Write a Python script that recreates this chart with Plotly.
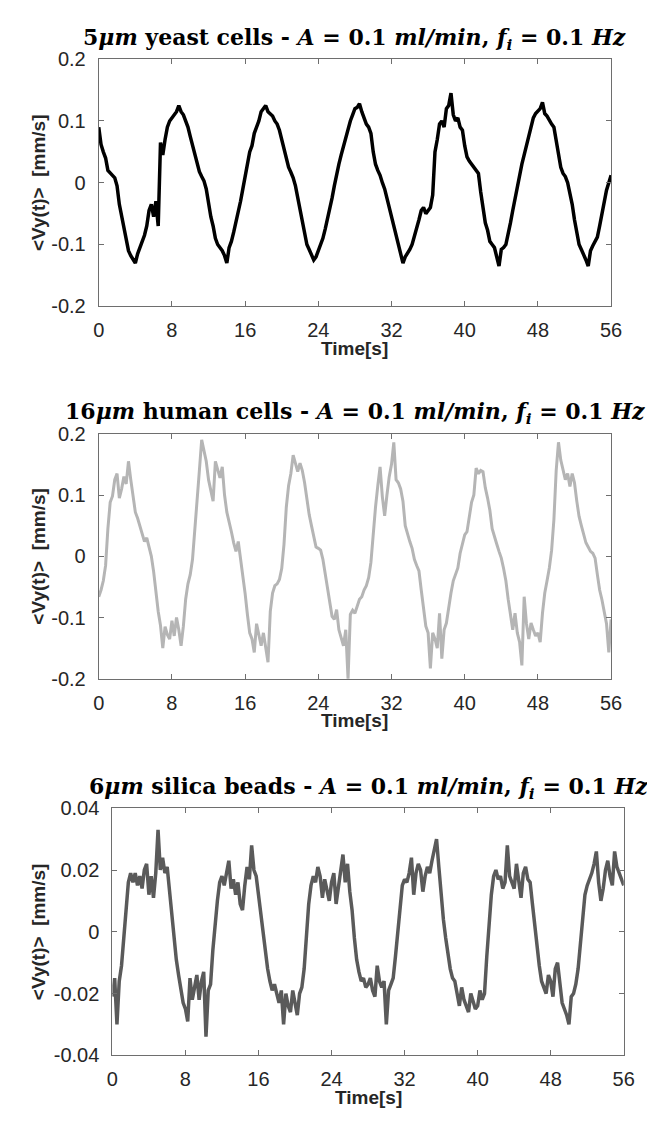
import plotly.graph_objects as go

# sample times (s), 0.25 s step
time_s = [i * 0.25 for i in range(225)]

# 5um yeast cells <Vy(t)> [mm/s]
yeast = [
    0.090, 0.062, 0.050, 0.040, 0.020, 0.015, 0.012, 0.008,
    -0.005, -0.035, -0.055, -0.075, -0.095, -0.110, -0.118, -0.125,
    -0.130, -0.115, -0.105, -0.095, -0.085, -0.070, -0.045, -0.035,
    -0.055, -0.030, -0.070, 0.065, 0.045, 0.070, 0.090, 0.100,
    0.105, 0.112, 0.115, 0.125, 0.115, 0.110, 0.100, 0.090,
    0.075, 0.060, 0.045, 0.030, 0.018, 0.010, 0.003, -0.010,
    -0.035, -0.055, -0.070, -0.090, -0.100, -0.105, -0.110, -0.118,
    -0.130, -0.105, -0.095, -0.080, -0.065, -0.050, -0.030, -0.010,
    0.010, 0.030, 0.050, 0.060, 0.080, 0.090, 0.100, 0.115,
    0.120, 0.125, 0.115, 0.112, 0.108, 0.100, 0.095, 0.085,
    0.070, 0.050, 0.038, 0.025, 0.017, 0.008, -0.005, -0.025,
    -0.045, -0.065, -0.085, -0.100, -0.108, -0.115, -0.125, -0.120,
    -0.110, -0.100, -0.090, -0.075, -0.060, -0.045, -0.025, -0.005,
    0.015, 0.030, 0.045, 0.060, 0.075, 0.090, 0.100, 0.110,
    0.120, 0.122, 0.128, 0.115, 0.105, 0.095, 0.090, 0.080,
    0.050, 0.030, 0.020, 0.012, 0.000, -0.010, -0.025, -0.040,
    -0.056, -0.075, -0.090, -0.104, -0.115, -0.130, -0.120, -0.115,
    -0.108, -0.100, -0.088, -0.075, -0.060, -0.045, -0.040, -0.050,
    -0.045, -0.040, -0.020, 0.050, 0.070, 0.095, 0.100, 0.090,
    0.120, 0.125, 0.145, 0.110, 0.100, 0.105, 0.090, 0.085,
    0.060, 0.042, 0.035, 0.030, 0.025, 0.020, 0.015, -0.015,
    -0.045, -0.065, -0.077, -0.095, -0.100, -0.105, -0.120, -0.135,
    -0.108, -0.105, -0.100, -0.085, -0.065, -0.045, -0.025, -0.005,
    0.015, 0.030, 0.045, 0.060, 0.075, 0.090, 0.105, 0.112,
    0.117, 0.120, 0.130, 0.112, 0.108, 0.100, 0.095, 0.090,
    0.070, 0.050, 0.025, 0.015, 0.010, 0.000, -0.015, -0.035,
    -0.060, -0.080, -0.100, -0.108, -0.115, -0.125, -0.135, -0.110,
    -0.102, -0.095, -0.088, -0.070, -0.050, -0.030, -0.012, 0.000,
    0.012,
]

# 16um human cells <Vy(t)> [mm/s]
human = [
    -0.066, -0.055, -0.040, -0.015, 0.045, 0.088, 0.098, 0.125,
    0.135, 0.095, 0.110, 0.130, 0.118, 0.155, 0.125, 0.095,
    0.072, 0.062, 0.048, 0.035, 0.024, 0.030, 0.012, 0.000,
    -0.025, -0.060, -0.090, -0.113, -0.150, -0.115, -0.128, -0.135,
    -0.105, -0.130, -0.100, -0.120, -0.146, -0.114, -0.070, -0.045,
    -0.030, -0.005, 0.040, 0.085, 0.140, 0.190, 0.172, 0.155,
    0.125, 0.105, 0.090, 0.155, 0.140, 0.128, 0.146, 0.100,
    0.072, 0.058, 0.040, 0.022, 0.008, 0.024, -0.005, -0.025,
    -0.061, -0.095, -0.125, -0.135, -0.157, -0.110, -0.130, -0.146,
    -0.125, -0.150, -0.173, -0.090, -0.060, -0.048, -0.045, -0.038,
    -0.020, 0.020, 0.080, 0.115, 0.135, 0.165, 0.150, 0.138,
    0.152, 0.140, 0.120, 0.093, 0.068, 0.050, 0.035, 0.015,
    0.013, 0.010, -0.005, -0.030, -0.050, -0.077, -0.098, -0.103,
    -0.087, -0.120, -0.135, -0.146, -0.120, -0.200, -0.095, -0.088,
    -0.093, -0.082, -0.070, -0.066, -0.055, -0.048, -0.035, -0.010,
    0.040, 0.080, 0.115, 0.146, 0.097, 0.066, 0.100, 0.130,
    0.150, 0.186, 0.125, 0.120, 0.110, 0.090, 0.050, 0.035,
    0.024, 0.013, -0.005, -0.015, -0.024, -0.055, -0.090, -0.114,
    -0.125, -0.183, -0.125, -0.135, -0.150, -0.093, -0.167, -0.120,
    -0.109, -0.082, -0.060, -0.040, -0.029, -0.019, 0.005, 0.020,
    0.035, 0.040, 0.065, 0.088, 0.100, 0.144, 0.135, 0.140,
    0.138, 0.112, 0.095, 0.075, 0.045, 0.030, 0.020, 0.008,
    -0.003, -0.020, -0.040, -0.070, -0.095, -0.120, -0.093, -0.125,
    -0.140, -0.178, -0.066, -0.110, -0.135, -0.109, -0.120, -0.130,
    -0.125, -0.140, -0.093, -0.060, -0.040, -0.019, 0.010, 0.060,
    0.140, 0.186, 0.157, 0.140, 0.125, 0.135, 0.114, 0.135,
    0.120, 0.090, 0.065, 0.050, 0.035, 0.022, 0.015, 0.008,
    0.005, -0.003, -0.030, -0.055, -0.071, -0.093, -0.110, -0.157,
    -0.103,
]

# 6um silica beads <Vy(t)> [mm/s]
silica = [
    -0.021, -0.015, -0.030, -0.016, -0.011, -0.002, 0.010, 0.016,
    0.019, 0.016, 0.019, 0.015, 0.018, 0.014, 0.020, 0.022,
    0.012, 0.018, 0.011, 0.019, 0.033, 0.020, 0.024, 0.019,
    0.021, 0.013, 0.004, -0.003, -0.009, -0.014, -0.018, -0.023,
    -0.025, -0.029, -0.015, -0.022, -0.018, -0.014, -0.022, -0.016,
    -0.013, -0.034, -0.019, -0.017, -0.006, 0.003, 0.010, 0.016,
    0.018, 0.015, 0.019, 0.023, 0.014, 0.017, 0.012, 0.016,
    0.009, 0.007, 0.015, 0.021, 0.017, 0.028, 0.020, 0.018,
    0.012, 0.006, -0.001, -0.007, -0.012, -0.016, -0.019, -0.017,
    -0.020, -0.023, -0.019, -0.030, -0.020, -0.024, -0.026, -0.019,
    -0.023, -0.027, -0.020, -0.018, -0.012, -0.001, 0.009, 0.015,
    0.018, 0.016, 0.021, 0.018, 0.011, 0.017, 0.014, 0.010,
    0.016, 0.019, 0.009, 0.014, 0.020, 0.025, 0.016, 0.022,
    0.013, 0.007, -0.002, -0.009, -0.013, -0.016, -0.015, -0.018,
    -0.017, -0.015, -0.019, -0.021, -0.011, -0.016, -0.018, -0.016,
    -0.030, -0.019, -0.017, -0.015, -0.008, 0.000, 0.010, 0.015,
    0.017, 0.016, 0.019, 0.024, 0.012, 0.019, 0.022, 0.020,
    0.013, 0.018, 0.021, 0.019, 0.023, 0.026, 0.030, 0.021,
    0.012, 0.004, -0.002, -0.008, -0.012, -0.015, -0.016, -0.020,
    -0.024, -0.018, -0.022, -0.024, -0.026, -0.020, -0.023, -0.025,
    -0.024, -0.019, -0.022, -0.020, -0.008, 0.003, 0.012, 0.018,
    0.020, 0.017, 0.018, 0.014, 0.016, 0.028, 0.018, 0.016,
    0.014, 0.022, 0.017, 0.011, 0.019, 0.021, 0.017, 0.016,
    0.009, 0.002, -0.005, -0.011, -0.016, -0.018, -0.020, -0.014,
    -0.016, -0.021, -0.012, -0.010, -0.018, -0.023, -0.025, -0.027,
    -0.030, -0.021, -0.020, -0.017, -0.012, -0.003, 0.006, 0.012,
    0.015, 0.017, 0.019, 0.022, 0.026, 0.016, 0.010, 0.014,
    0.020, 0.023, 0.018, 0.015, 0.026, 0.021, 0.019, 0.017,
    0.015,
]

x_ticks = [0, 8, 16, 24, 32, 40, 48, 56]
y_ticks_cells = [-0.2, -0.1, 0, 0.1, 0.2]
y_ticklabels_cells = ["-0.2", "-0.1", "0", "0.1", "0.2"]
y_ticks_beads = [-0.04, -0.02, 0, 0.02, 0.04]
y_ticklabels_beads = ["-0.04", "-0.02", "0", "0.02", "0.04"]

SP = "&nbsp;"
tail = (" - <i>A</i>" + SP + "=" + SP + "0.1" + SP + "<i>ml/min</i>," + SP
        + "<i>f<sub>i</sub></i>" + SP + "=" + SP + "0.1" + SP + "<i>Hz</i>")
titles = [
    "<b>5<i>μm</i> yeast cells" + tail + "</b>",
    "<b>16<i>μm</i> human cells" + tail + "</b>",
    "<b>6<i>μm</i> silica beads" + tail + "</b>",
]
series = [yeast, human, silica]
colors = ["#000000", "#b5b5b5", "#5a5a5a"]
widths = [3.5, 3.0, 3.5]

W, H = 655, 1124
# plot areas in pixels (left, right, top, bottom)
boxes = [(87, 613, 41, 293), (87, 613, 423, 673), (101, 626, 805, 1057)]
yranges = [[-0.2, 0.2], [-0.2, 0.2], [-0.04, 0.04]]
yticks = [(y_ticks_cells, y_ticklabels_cells), (y_ticks_cells, y_ticklabels_cells),
          (y_ticks_beads, y_ticklabels_beads)]

fig = go.Figure()
axis_color = "#6e6e6e"
tick_font = dict(family="Liberation Sans, Arial", size=20, color="#262626")
label_font = dict(family="Liberation Sans, Arial", size=19, color="#262626")

annotations = []
for k in range(3):
    n = "" if k == 0 else str(k + 1)
    l, r, t, b = boxes[k]
    fig.add_trace(go.Scatter(
        x=time_s, y=series[k], mode="lines",
        line=dict(color=colors[k], width=widths[k]),
        xaxis="x" + n, yaxis="y" + n, showlegend=False,
    ))
    xa = dict(
        domain=[l / W, r / W], anchor="y" + n, range=[0, 56],
        tickvals=x_ticks, ticktext=[str(v) for v in x_ticks],
        ticks="inside", ticklen=5, tickcolor=axis_color, tickwidth=1,
        showline=True, linecolor=axis_color, linewidth=1, mirror="ticks",
        showgrid=False, zeroline=False, tickfont=tick_font,
        ticklabelstandoff=6,
    )
    ya = dict(
        domain=[1 - b / H, 1 - t / H], anchor="x" + n, range=yranges[k],
        tickvals=yticks[k][0], ticktext=yticks[k][1],
        ticks="inside", ticklen=5, tickcolor=axis_color, tickwidth=1,
        showline=True, linecolor=axis_color, linewidth=1, mirror="ticks",
        showgrid=False, zeroline=False, tickfont=tick_font,
        ticklabelstandoff=8,
    )
    fig.layout["xaxis" + n] = xa
    fig.layout["yaxis" + n] = ya
    # panel title
    annotations.append(dict(
        text=titles[k], xref="paper", yref="paper",
        x=((l + r) / 2) / W, y=1 - (t - 21) / H,
        xanchor="center", yanchor="middle", showarrow=False,
        font=dict(family="DejaVu Serif", size=22, color="#000000"),
    ))
    # x-axis title
    annotations.append(dict(
        text="<b>Time[s]</b>", xref="paper", yref="paper",
        x=((l + r) / 2) / W, y=1 - (b + 43) / H,
        xanchor="center", yanchor="middle", showarrow=False, font=label_font,
    ))
    # y-axis title
    annotations.append(dict(
        text="<b>&lt;Vy(t)&gt;" + SP + " [mm/s]</b>", xref="paper", yref="paper",
        x=25 / W, y=1 - ((t + b) / 2) / H, textangle=-90,
        xanchor="center", yanchor="middle", showarrow=False, font=label_font,
    ))

fig.update_layout(
    width=W, height=H, margin=dict(l=0, r=0, t=0, b=0),
    paper_bgcolor="white", plot_bgcolor="white",
    annotations=annotations,
)
fig.write_html("out.html")
